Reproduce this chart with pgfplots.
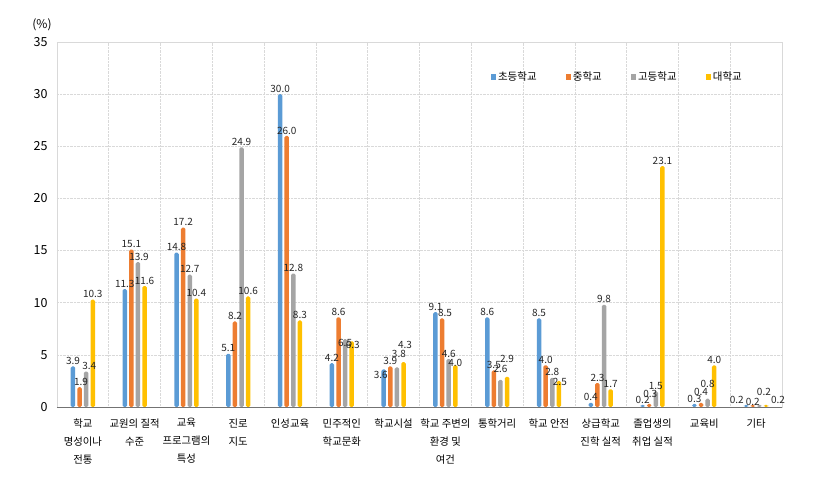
\documentclass[border=0pt]{standalone}
\usepackage{pgfplots}
\pgfplotsset{compat=1.18}
\usepackage{pgfplotstable}
\usepackage{fontspec}
\setmainfont{Noto Sans CJK KR}
\definecolor{cA}{HTML}{5B9BD5}
\definecolor{cB}{HTML}{ED7D31}
\definecolor{cC}{HTML}{A5A5A5}
\definecolor{cD}{HTML}{FFC000}
\definecolor{gridc}{HTML}{D9D9D9}
\definecolor{txt}{HTML}{262626}
% values a-d; label shifts (pt) xa ya ... xd yd
\pgfplotstableread{
x a b c d xa ya xb yb xc yc xd yd
0 3.9 1.9 3.4 10.3 0 0 1.5 0 3 0 0 0
1 11.3 15.1 13.9 11.6 0 0 0 0 1 0 0 0
2 14.8 17.2 12.7 10.4 0 0 0 0 0 0 0 0
3 5.1 8.2 24.9 10.6 0 0 0 0 0 0 0 0
4 30.0 26.0 12.8 8.3 0 0 0 0 0 0 0 0
5 4.2 8.6 6.5 6.3 0 0 0 0 0 -9 1 -9
6 3.6 3.9 3.8 4.3 -3 -11 0 0 2 8 1.5 12
7 9.1 8.5 4.6 4.0 0 0 3 0 0 0 0 -3
8 8.6 3.5 2.6 2.9 0 0 0 0 0 6 0 12
9 8.5 4.0 2.8 2.5 0 0 0 0 0 0 1 -6
10 0.4 2.3 9.8 1.7 0 0 0 0 0 0 0 0
11 0.2 0.3 1.5 23.1 0 0 1 5 0 0 0 0
12 0.3 0.4 0.8 4.0 0 0 0 5 0 9 0 0
13 0.2 0.2 0.2 0.2 -9.5 0 0 -2 4.5 8 12 0
}\data
\pgfplotsset{
  lbl/.style={
    visualization depends on={\thisrow{x#1}\as\sx},
    visualization depends on={\thisrow{y#1}\as\sy},
    nodes near coords style={xshift=\sx pt, yshift=\sy pt}}
}
\begin{document}
\begin{tikzpicture}
\path[use as bounding box] (-57pt,-82pt) rectangle (758pt,407pt);
\begin{axis}[
  at={(0,0)}, anchor=south west,
  scale only axis, width=725pt, height=365pt,
  xmin=-0.5, xmax=13.5, ymin=0, ymax=35,
  ytick={0,5,...,35},
  xtick={0,...,13},
  xticklabels={{학교\\명성이나\\전통},{교원의 질적\\수준},{교육\\프로그램의\\특성},{진로\\지도},{인성교육},{민주적인\\학교문화},{학교시설},{학교 주변의\\환경 및\\여건},{통학거리},{학교 안전},{상급학교\\진학 실적},{졸업생의\\취업 실적},{교육비},{기타}},
  xticklabel style={align=center, font=\fontsize{10.4}{18}\selectfont, text=black, yshift=-8pt},
  yticklabel style={font=\fontsize{12.5}{14}\selectfont, text=black, xshift=-6pt},
  /pgf/number format/assume math mode=true,
  minor xtick={0.5,1.5,...,12.5},
  xminorgrids=true, ymajorgrids=true,
  major grid style={gridc, densely dotted, line width=0.6pt},
  minor grid style={gridc, densely dotted, line width=0.6pt},
  major tick length=0pt, minor tick length=0pt,
  axis line style={gridc, line width=0.8pt},
  ybar=2.1pt, bar width=4.5pt,
  nodes near coords={\pgfmathprintnumber[fixed, fixed zerofill, precision=1]{\pgfplotspointmeta}},
  nodes near coords style={font=\fontsize{10}{11}\selectfont, text=txt, inner sep=1.5pt},
  legend style={at={(rel axis cs:0.594,0.904)}, anchor=west, draw=none, fill=none,
    legend columns=4, font=\fontsize{10.5}{14}\selectfont,
    /tikz/every even column/.append style={column sep=27pt}},
  legend cell align=left,
  legend image code/.code={\fill[#1,draw=none,sharp corners] (0pt,-2.6pt) rectangle (5.2pt,2.6pt);},
  clip=false,
]
\addplot[fill=cA, draw=none, rounded corners=1.5pt, lbl=a] table[x=x,y=a]{\data};
\addplot[fill=cB, draw=none, rounded corners=1.5pt, lbl=b] table[x=x,y=b]{\data};
\addplot[fill=cC, draw=none, rounded corners=1.5pt, lbl=c] table[x=x,y=c]{\data};
\addplot[fill=cD, draw=none, rounded corners=1.5pt, lbl=d] table[x=x,y=d]{\data};
\legend{초등학교,중학교,고등학교,대학교}
\draw[black!55, line width=0.8pt] (rel axis cs:0,0) -- (rel axis cs:1,0);
\node[font=\fontsize{12}{14}\selectfont, anchor=south] at ([xshift=-15pt,yshift=8pt]rel axis cs:0,1) {(\%)};
\end{axis}
\end{tikzpicture}
\end{document}
